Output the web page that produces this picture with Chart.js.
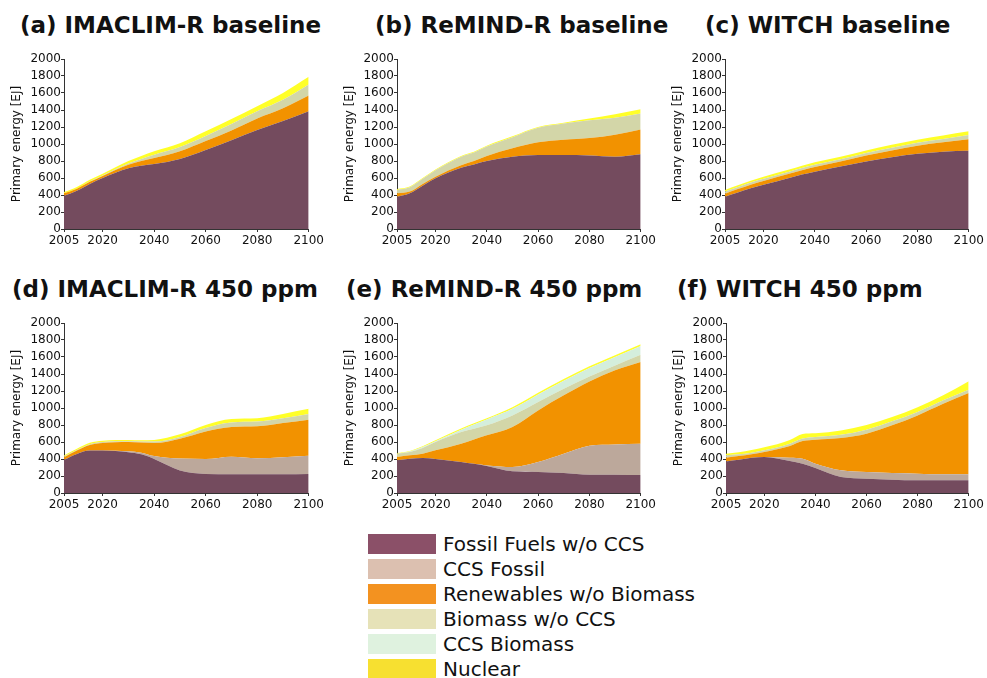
<!DOCTYPE html>
<html>
<head>
<meta charset="utf-8">
<script src="https://cdn.jsdelivr.net/npm/chart.js@4/dist/chart.umd.min.js"></script>
<style>
  body { margin: 0; background: #fff; font-family: "DejaVu Sans", sans-serif; }
  #page { position: relative; width: 987px; height: 678px; overflow: hidden; }
  .title { position: absolute; font-weight: bold; font-size: 23px; line-height: 23px; color: #111; white-space: nowrap; }
  canvas { position: absolute; }
  .legend-row { position: absolute; left: 368px; height: 20px; }
  .legend-row .sw { position: absolute; left: 0; top: 0; width: 68px; height: 20px; }
  .legend-row .lb { position: absolute; left: 75px; top: -1px; font-size: 20px; line-height: 22px; color: #111; white-space: nowrap; }
</style>
</head>
<body>
<div id="page"></div>
<script>
// ---- data (EJ, layer amounts, not cumulative) ----
const years = [2005, 2010, 2015, 2020, 2030, 2035, 2040, 2050, 2060, 2070, 2080, 2090, 2100];
const xTicks = [2005, 2020, 2040, 2060, 2080, 2100];
const seriesNames = ['Fossil Fuels w/o CCS', 'CCS Fossil', 'Renewables w/o Biomass',
                     'Biomass w/o CCS', 'CCS Biomass', 'Nuclear'];

// rows follow seriesNames order
const imaclimBase = [
  [390, 450, 530, 600, 715, 745, 765, 825, 930, 1045, 1165, 1270, 1385],
  [0, 0, 0, 0, 0, 0, 0, 0, 0, 0, 0, 0, 0],
  [30, 25, 25, 25, 40, 55, 70, 90, 105, 115, 135, 150, 185],
  [0, 0, 5, 5, 15, 25, 40, 50, 60, 75, 85, 100, 130],
  [0, 0, 0, 0, 0, 0, 0, 0, 0, 0, 0, 0, 0],
  [15, 20, 20, 20, 30, 35, 40, 45, 55, 60, 60, 80, 90]
];
const remindBase = [
  [380, 420, 510, 596, 720, 760, 800, 850, 870, 870, 865, 850, 880],
  [0, 0, 0, 0, 0, 0, 0, 0, 0, 0, 0, 0, 0],
  [40, 20, 20, 19, 30, 40, 60, 100, 150, 180, 205, 260, 290],
  [40, 50, 60, 75, 100, 100, 110, 130, 170, 190, 210, 200, 190],
  [0, 0, 0, 0, 0, 0, 0, 0, 0, 0, 0, 0, 0],
  [10, 10, 10, 10, 10, 10, 10, 10, 10, 10, 20, 40, 50]
];
const witchBase = [
  [380, 430, 480, 520, 600, 640, 675, 735, 795, 845, 885, 910, 920],
  [0, 0, 0, 0, 0, 0, 0, 0, 0, 0, 0, 0, 0],
  [35, 40, 42, 45, 50, 52, 55, 60, 70, 80, 95, 110, 135],
  [25, 25, 25, 25, 25, 25, 25, 25, 30, 30, 35, 40, 50],
  [0, 0, 0, 0, 0, 0, 0, 0, 0, 0, 0, 0, 0],
  [20, 20, 22, 25, 25, 28, 30, 30, 30, 35, 35, 40, 45]
];
const imaclim450 = [
  [390, 460, 500, 500, 480, 455, 400, 265, 225, 222, 220, 222, 225],
  [0, 0, 0, 0, 10, 20, 35, 140, 175, 205, 190, 200, 212],
  [30, 40, 65, 88, 110, 120, 153, 234, 325, 349, 374, 401, 425],
  [10, 5, 10, 12, 10, 12, 17, 21, 40, 54, 56, 57, 68],
  [0, 0, 0, 0, 0, 0, 0, 0, 0, 0, 0, 0, 0],
  [10, 15, 15, 15, 15, 15, 20, 30, 35, 40, 40, 50, 60]
];
const remind450 = [
  [384, 404, 412, 400, 365, 343, 318, 255, 247, 235, 216, 216, 212],
  [0, 0, 0, 0, 0, 0, 7, 51, 118, 228, 341, 356, 368],
  [39, 39, 50, 102, 215, 287, 353, 470, 607, 686, 756, 871, 960],
  [39, 39, 68, 98, 137, 125, 118, 137, 98, 78, 59, 58, 87],
  [0, 5, 10, 8, 28, 50, 69, 77, 90, 93, 98, 99, 103],
  [8, 8, 10, 12, 15, 15, 15, 20, 20, 20, 20, 20, 20]
];
const witch450 = [
  [372, 392, 416, 423, 376, 345, 294, 188, 169, 157, 149, 149, 149],
  [0, 0, 0, 0, 40, 59, 51, 79, 78, 78, 78, 71, 71],
  [43, 43, 39, 59, 137, 207, 282, 380, 451, 561, 686, 830, 956],
  [28, 20, 20, 20, 27, 29, 32, 39, 47, 47, 40, 40, 39],
  [0, 0, 0, 0, 0, 0, 0, 0, 0, 0, 0, 0, 0],
  [19, 25, 30, 35, 45, 55, 45, 50, 55, 50, 55, 60, 100]
];

// ---- colours ----
const areaColors = ['#744b5e', '#bca89b', '#f29200', '#d3d6a8', '#d4eedc', '#ffff28'];
const legendColors = ['#8b5068', '#dcc0b0', '#f39220', '#e6e2b8', '#dff2df', '#f7e030'];

// panel layout: title pos + plot area box
const panels = [
  { title: '(a) IMACLIM-R baseline', tx: 20, ty: 14, data: imaclimBase, left: 64, right: 310, top: 59, bottom: 229 },
  { title: '(b) ReMIND-R baseline', tx: 375, ty: 14, data: remindBase, left: 397, right: 642, top: 59, bottom: 229 },
  { title: '(c) WITCH baseline', tx: 705, ty: 14, data: witchBase, left: 725, right: 970, top: 59, bottom: 229 },
  { title: '(d) IMACLIM-R 450 ppm', tx: 12, ty: 278, data: imaclim450, left: 64, right: 310, top: 323, bottom: 493 },
  { title: '(e) ReMIND-R 450 ppm', tx: 346, ty: 278, data: remind450, left: 397, right: 642, top: 323, bottom: 493 },
  { title: '(f) WITCH 450 ppm', tx: 677, ty: 278, data: witch450, left: 726, right: 970, top: 323, bottom: 493 }
];

const page = document.getElementById('page');
const tickFont = { family: '"DejaVu Sans", sans-serif', size: 12 };

panels.forEach(function(p) {
    const t = document.createElement('div');
    t.className = 'title';
    t.style.left = p.tx + 'px';
    t.style.top = p.ty + 'px';
    t.textContent = p.title;
    page.appendChild(t);

    // canvas box around the plot area
    const cLeft = p.left - 64;
    const cTop = p.top - 10;
    const cW = p.right - cLeft + 16;
    const cH = p.bottom - cTop + 22;
    const padLeft = 10;
    const yW = p.left - cLeft - padLeft;

    const canvas = document.createElement('canvas');
    canvas.width = cW;
    canvas.height = cH;
    canvas.style.left = cLeft + 'px';
    canvas.style.top = cTop + 'px';
    page.appendChild(canvas);

    const datasets = p.data.map(function(vals, i) {
        return {
            label: seriesNames[i],
            data: years.map((y, k) => ({ x: y, y: vals[k] })),
            backgroundColor: areaColors[i],
            borderWidth: 0,
            pointRadius: 0,
            fill: i === 0 ? 'origin' : '-1',
            cubicInterpolationMode: 'monotone'
        };
    });

    new Chart(canvas, {
        type: 'line',
        data: { datasets: datasets },
        options: {
            responsive: false,
            animation: false,
            layout: { padding: { top: 10, right: 16, left: padLeft, bottom: 0 } },
            plugins: { legend: { display: false }, tooltip: { enabled: false } },
            scales: {
                x: {
                    type: 'linear',
                    min: 2005,
                    max: 2100,
                    afterBuildTicks: function(scale) {
                        scale.ticks = xTicks.map(v => ({ value: v }));
                    },
                    afterFit: function(scale) { scale.height = 22; },
                    ticks: {
                        autoSkip: false,
                        maxRotation: 0,
                        padding: 2,
                        color: '#111',
                        font: tickFont,
                        callback: v => String(v)
                    },
                    grid: { display: true, drawOnChartArea: false, tickLength: 3, color: '#333' },
                    border: { display: true, color: '#333', width: 1 }
                },
                y: {
                    stacked: true,
                    min: 0,
                    max: 2000,
                    afterFit: function(scale) { scale.width = yW; },
                    ticks: {
                        stepSize: 200,
                        autoSkip: false,
                        padding: 0,
                        color: '#111',
                        font: tickFont,
                        callback: v => String(v)
                    },
                    title: {
                        display: true,
                        text: 'Primary energy [EJ]',
                        color: '#111',
                        padding: 0,
                        font: { family: '"DejaVu Sans", sans-serif', size: 12 }
                    },
                    grid: { display: true, drawOnChartArea: false, tickLength: 3, color: '#333' },
                    border: { display: true, color: '#333', width: 1 }
                }
            }
        }
    });
});

// ---- legend ----
seriesNames.forEach(function(name, i) {
    const row = document.createElement('div');
    row.className = 'legend-row';
    row.style.top = (534 + i * 25) + 'px';
    row.innerHTML = '<div class="sw" style="background:' + legendColors[i] + '"></div>' +
                    '<div class="lb">' + name + '</div>';
    page.appendChild(row);
});
</script>
</body>
</html>
